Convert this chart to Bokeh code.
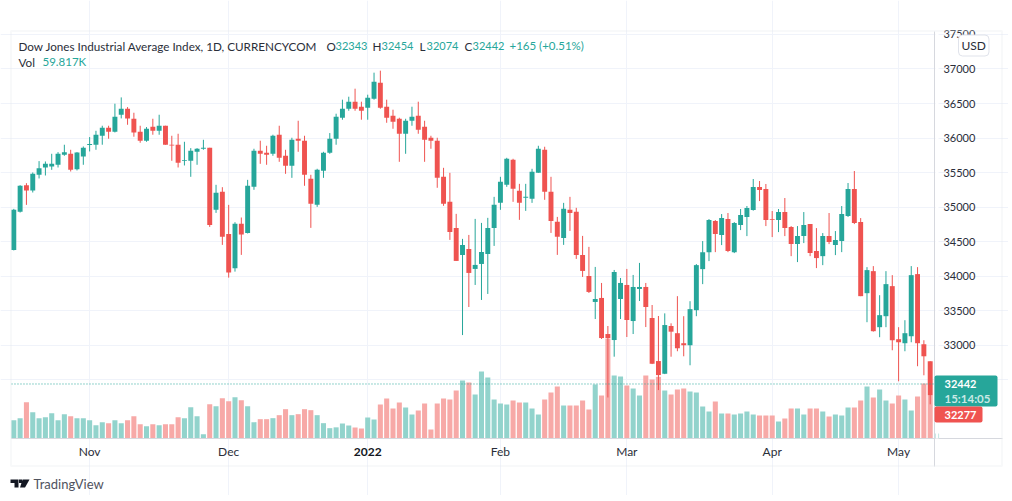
from bokeh.plotting import figure
from bokeh.embed import file_html
from bokeh.resources import INLINE
from bokeh.models import (Range1d, FixedTicker, Label, BoxAnnotation, PolyAnnotation,
                          ColumnDataSource)

# 147 daily bars, CURRENCYCOM Dow Jones Industrial Average Index
opens = [34382,34933,35319,35242,35469,35575,35590,35614,35759,35773,35551,35735,35899,35904,36034,36150,36092,36338,36425,36280,
         36092,35962,36164,36106,36179,35904,35904,35667,35672,35802,35846,35860,34962,35223,34614,34116,34759,34628,35295,35817,
         35788,35773,36049,35744,35599,35991,35962,35411,35034,35527,35788,35991,36295,36425,36527,36454,36440,36570,36802,36454,
         36324,36280,36063,36251,36324,36164,36005,35962,35440,35078,34701,34310,34397,34107,34179,34324,34701,35063,35324,35686,
         35237,35136,35121,35498,35831,35223,34788,34556,34962,34933,34310,34005,33629,33687,33165,33078,33672,33875,33353,33817,
         33846,33397,32774,32590,33281,33177,33032,33003,33510,34104,34350,34800,34597,34829,34350,34742,34858,34959,35292,35263,
         34829,34814,34930,34713,34466,34582,34756,34365,34292,34582,34452,34510,34872,35263,34785,33756,34075,33264,33423,33858,
         33090,33032,33133,34032,33017,32771,32343]
highs = [34976,35319,35348,35503,35667,35662,35773,35797,35904,35831,35797,35879,36015,36106,36179,36179,36498,36589,36449,36367,
         36179,36160,36280,36338,36179,36034,36063,35947,35855,35855,35976,35860,35324,35290,35034,34783,34851,35396,35846,35962,
         35889,36049,36179,35831,36005,36251,36034,35469,35556,35802,36073,36353,36556,36599,36715,36527,36628,36947,36976,36556,
         36411,36295,36280,36454,36527,36251,36034,36005,35570,35498,34904,34542,34599,34831,34773,34846,35150,35440,35715,35701,
         35338,35338,35556,35889,35875,35440,34860,35063,35150,34991,34585,34426,34136,33904,33281,34092,33976,34107,34020,34194,
         33904,33585,33426,33464,33320,33713,33423,33640,34177,34510,34829,34814,34901,34916,34785,34974,35017,35408,35379,35336,
         34945,34974,35133,34727,34727,34930,34756,34698,34626,34916,34655,35017,35350,35524,34843,34133,34148,33727,34075,34017,
         33264,33365,34148,34133,33075,32771,32454]
lows = [34375,34923,35034,35213,35416,35459,35541,35575,35744,35517,35532,35614,35807,35831,35904,35991,36082,36285,36193,36020,
        35933,35947,36049,36049,35904,35672,35575,35604,35440,35614,35831,34715,34918,34455,33981,34068,34310,34620,35252,35628,
        35614,35744,35657,35483,35425,35802,35310,34701,35005,35425,35773,35904,36266,36396,36396,36266,36266,36556,36425,36222,
        36135,35657,35773,36179,36063,35657,35846,35281,35020,34527,34223,33150,33556,33875,33658,33745,34440,34962,35295,35078,
        34817,34947,35063,35498,35107,34628,34310,34455,34657,34252,33991,33759,33382,33093,32247,32837,33382,33122,33165,33643,
        33266,32730,32354,32585,32837,32916,32843,32713,33423,33887,34220,34350,34452,34350,34336,34669,34582,34950,35089,34727,
        34568,34640,34582,34292,34206,34481,34292,34119,34162,34466,34307,34350,34858,34756,33713,33336,33200,33119,33264,32930,
        32481,32916,33046,32699,32568,32148,32074]
closes = [34962,35310,35242,35483,35565,35628,35628,35773,35797,35541,35792,35860,35913,36049,36150,36092,36309,36425,36285,36082,
          35962,36135,36106,36179,35904,35894,35643,35681,35817,35846,35860,34744,35208,34571,34054,34759,34604,35310,35817,35773,
          35759,36034,35715,35599,35976,35962,35469,35049,35541,35788,35991,36309,36425,36527,36425,36396,36585,36816,36440,36295,
          36237,36063,36251,36309,36121,35976,35962,35425,35049,34643,34223,34455,34049,34165,34353,34701,35034,35367,35701,35266,
          35063,35150,35512,35846,35223,34802,34571,34976,34918,34310,34078,33774,33672,33107,33107,34063,33904,33368,33846,33846,
          33556,32735,32571,33295,33199,32959,33003,33525,34162,34350,34814,34611,34843,34365,34771,34887,34988,35292,35249,34814,
          34819,34930,34698,34466,34582,34742,34336,34264,34582,34495,34524,34901,35263,34771,33713,34090,33206,33438,33887,33075,
          33046,33177,34017,33032,32843,32277,32442]
# traded volume, thousands
volumes = [220,244,436,316,244,256,304,220,292,268,244,244,220,160,196,184,220,184,220,268,
           172,148,172,160,172,172,256,244,376,268,52,412,388,484,448,496,460,388,196,232,
           232,244,280,352,280,292,352,340,280,184,124,134,180,156,132,120,252,228,408,480,
           360,432,372,288,336,420,108,420,480,468,576,696,672,528,804,732,468,420,408,456,
           432,432,360,288,468,552,624,396,396,396,456,348,648,516,1200,756,744,636,600,516,
           756,708,740,576,528,588,600,564,552,384,324,444,300,300,288,300,324,288,276,276,
           276,204,240,360,360,288,360,360,324,264,288,276,372,372,456,624,492,588,456,420,
           516,468,336,504,660,516,59.817]
month_ticks = [12, 34, 56, 77, 97, 120, 140]
month_labels = ["Nov", "Dec", " ", "Feb", "Mar", "Apr", "May"]
price_ticks = [32500, 33000, 33500, 34000, 34500, 35000, 35500, 36000, 36500, 37000, 37500]

GREEN, RED = "#26a69a", "#ef5350"
GREEN_V, RED_V = "#92d3cc", "#f7a9a7"
TEXT = "#2a2e39"
FONT = "Lato"

n = len(closes)
idx = list(range(n))
up = [c >= o for o, c in zip(opens, closes)]
src = ColumnDataSource(dict(
    x=idx, o=opens, h=highs, l=lows, c=closes, v=volumes,
    top=[max(o, c) for o, c in zip(opens, closes)],
    bot=[min(o, c) for o, c in zip(opens, closes)],
    col=[GREEN if u else RED for u in up],
    vcol=[GREEN_V if u else RED_V for u in up],
))

p = figure(width=1008, height=495,
           x_range=Range1d(-2.104, 157.39), y_range=Range1d(30828.5, 37991.2),
           output_backend="svg", toolbar_location=None, tools="",
           y_axis_location="right", min_border=0, min_border_left=0, min_border_top=0,
           min_border_right=0, min_border_bottom=0, background_fill_color="white",
           border_fill_color="white", outline_line_color=None)
p.extra_y_ranges["vol"] = Range1d(-684, 5256)

X_LEFT, X_AXIS, X_END = -0.364, 145.68, 156.44
Y_BASE, Y_TOP, Y_END = 31653, 37543, 31248

xa, ya = p.xaxis[0], p.yaxis[0]
xa.fixed_location = Y_BASE
ya.fixed_location = X_AXIS
xa.bounds = (X_LEFT, X_END)
ya.bounds = (Y_END, Y_TOP)
xa.ticker = FixedTicker(ticks=month_ticks)
xa.major_label_overrides = dict(zip(month_ticks, month_labels))
ya.ticker = FixedTicker(ticks=price_ticks)
for ax in (xa, ya):
    ax.major_tick_line_color = None
    ax.minor_tick_line_color = None
    ax.axis_line_color = "#d6d8de"
    ax.major_label_text_color = TEXT
    ax.major_label_text_font = FONT
ya.major_label_text_font_size = "11px"
xa.major_label_text_font_size = "12px"
ya.major_label_standoff = 3
xa.major_label_standoff = -1
p.xgrid.ticker = FixedTicker(ticks=month_ticks)
p.ygrid.ticker = FixedTicker(ticks=price_ticks)
p.xgrid.grid_line_color = "#f0f3fa"
p.ygrid.grid_line_color = "#f0f3fa"
p.xgrid.bounds = (Y_BASE, Y_TOP)
p.ygrid.bounds = (X_LEFT, X_AXIS)

p.vbar(x="x", width=0.8, top="v", bottom=0, source=src, y_range_name="vol",
       fill_color="vcol", line_color=None)
p.segment(x0="x", x1="x", y0="l", y1="h", source=src, line_color="col", line_width=1)
p.vbar(x="x", width=0.78, top="top", bottom="bot", source=src, fill_color="col", line_color=None)
p.segment(x0=[X_LEFT], x1=[X_AXIS], y0=[closes[-1]], y1=[closes[-1]], line_color=GREEN,
          line_width=1, line_dash="1 2")


def box(l, r, t, b, color, alpha=1, **kw):
    p.add_layout(BoxAnnotation(left=l, right=r, top=t, bottom=b, left_units="canvas",
                               right_units="canvas", top_units="canvas", bottom_units="canvas",
                               fill_color=color, fill_alpha=alpha, **kw))


def txt(x, y, s, color=TEXT, size="11.7px", style="normal", **kw):
    p.add_layout(Label(x=x, y=y, text=s, x_units="canvas", y_units="canvas",
                       text_color=color, text_font=FONT, text_font_size=size,
                       text_font_style=style, text_baseline="middle", **kw))


# keeps the part-drawn last bar out of the price scale
box(935, 938, 31, 438, "white", line_color=None)
# outer frame
box(10.5, 1001.5, 30.5, 465.5, "white", 0, line_color="#e9eaee", line_width=2)

# last price tags
box(934, 997, 375, 406, GREEN, line_color=None, border_radius=2)
box(934, 982, 406, 422, RED, line_color=None, border_radius=2)
txt(944, 383.5, "32442", "#ffffff", "11px", "bold")
txt(944, 398, "15:14:05", "#c9e9e5", "11.5px", "bold")
txt(944, 414.5, "32277", "#ffffff", "11px", "bold")

# legend
txt(18, 45, "Dow Jones Industrial Average Index, 1D, CURRENCYCOM")
for x, s, col, size in [(326, "O", TEXT, "11.7px"), (335, "32343", GREEN, "11px"),
                        (372, "H", TEXT, "11.7px"), (381, "32454", GREEN, "11px"),
                        (419, "L", TEXT, "11.7px"), (426, "32074", GREEN, "11px"),
                        (464, "C", TEXT, "11.7px"), (472, "32442", GREEN, "11px"),
                        (509, "+165 (+0.51%)", GREEN, "11.5px")]:
    txt(x, 45, s, col, size)
txt(18, 61, "Vol")
txt(42, 61, "59.817K", GREEN, "11.5px")

# bold year tick
p.add_layout(Label(x=month_ticks[2], y=451, text="2022", y_units="canvas", text_align="center",
                   text_baseline="middle", text_color="#131722", text_font=FONT,
                   text_font_size="12px", text_font_style="bold"))

# currency button
p.add_layout(Label(x=958, y=45, text="USD", x_units="canvas", y_units="canvas",
                   text_color=TEXT, text_font=FONT, text_font_size="12px", text_baseline="middle",
                   background_fill_color="white", border_line_color="#e0e3eb",
                   border_radius=4, padding=3))

# TradingView attribution
for xs, ys in [([10, 18, 18, 14, 14, 10], [479, 479, 487, 487, 482.5, 482.5]),
               ([22, 29, 24.5, 19.5], [479, 479, 487, 487])]:
    p.add_layout(PolyAnnotation(xs=xs, ys=ys, xs_units="canvas", ys_units="canvas",
                                fill_color="#131722", fill_alpha=1, line_color=None))
box(18.5, 21.5, 479, 482.5, "#131722", line_color=None)
txt(33, 483, "TradingView", "#50535e", "13px")

open("out.html", "w").write(file_html(p, INLINE))
